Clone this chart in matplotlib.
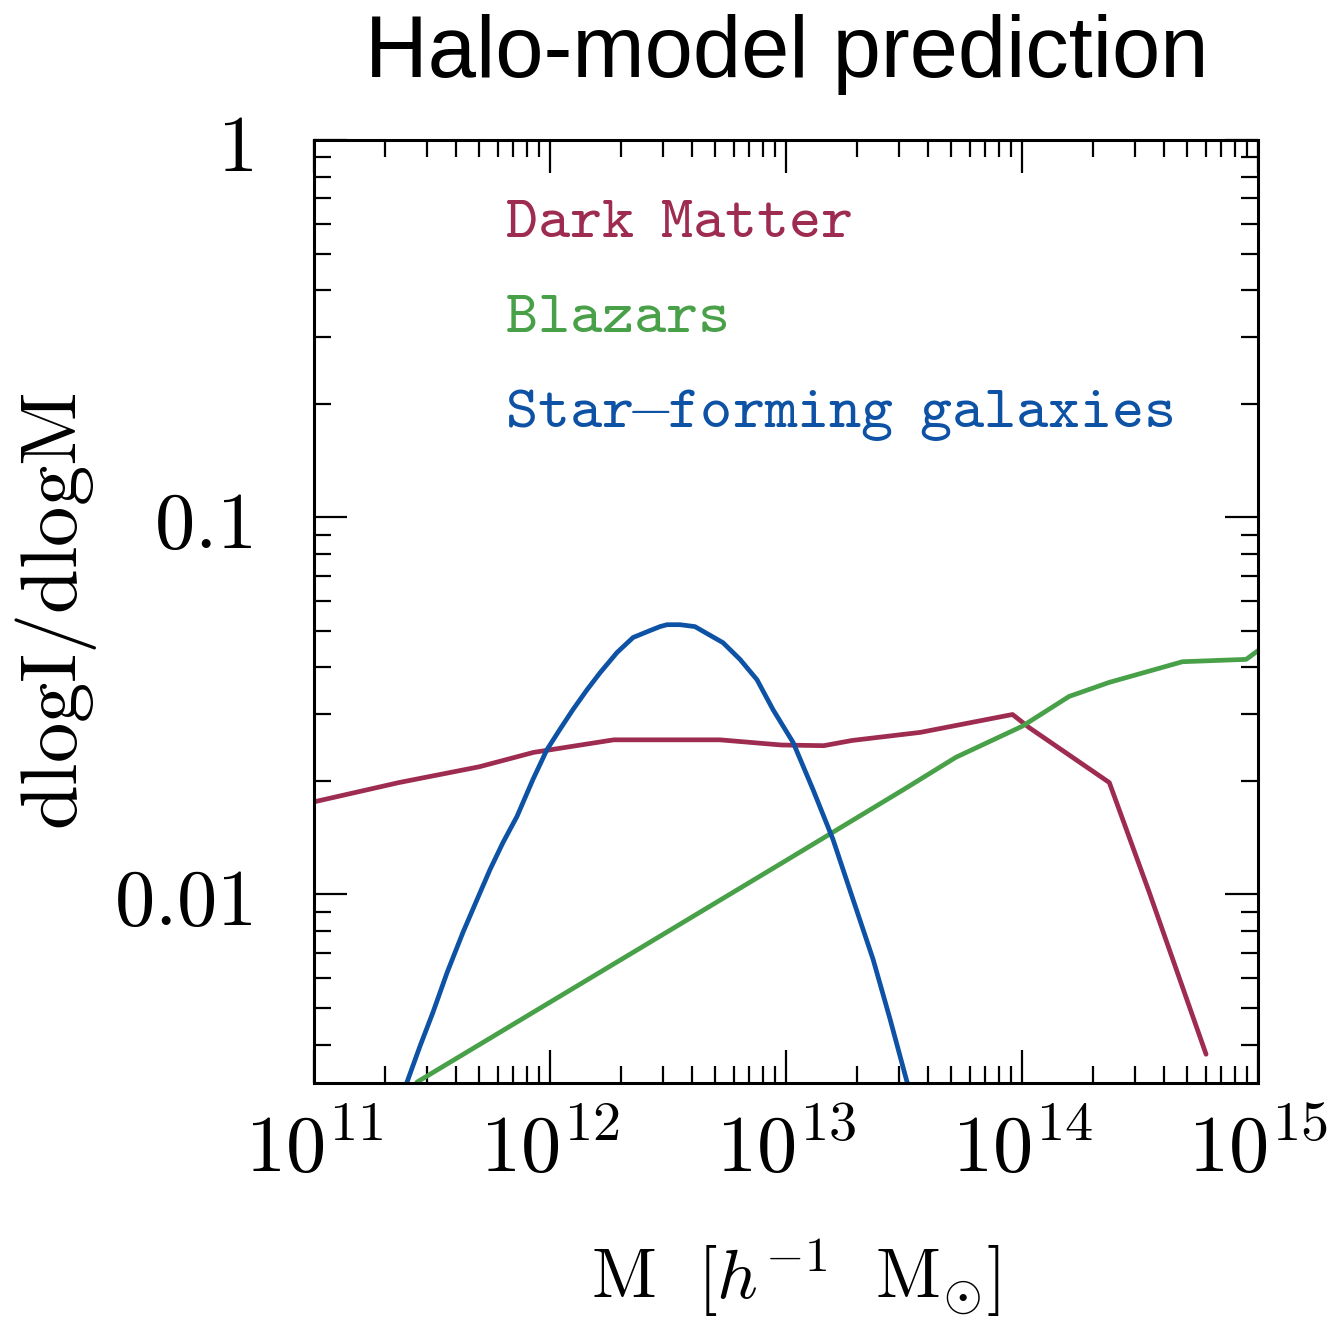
"""Halo-mass contribution to the gamma-ray intensity for three source classes."""

import matplotlib

matplotlib.use("Agg")
import matplotlib.pyplot as plt
import numpy as np
from matplotlib.ticker import FixedLocator, FuncFormatter, LogLocator, NullFormatter

plt.rcParams["mathtext.fontset"] = "cm"

# log10 halo mass [h^-1 Msun] and dlogI/dlogM per source class
dm_logm = [11.0, 11.36, 11.70, 11.93, 12.27, 12.72, 12.98, 13.16, 13.28, 13.57,
           13.96, 14.03, 14.37, 14.54, 14.78]
dm_frac = [0.0176, 0.0198, 0.0218, 0.0238, 0.0257, 0.0257, 0.0249, 0.0248, 0.0256,
           0.0269, 0.0300, 0.0277, 0.0198, 0.0101, 0.00377]

blazar_logm = [11.436, 12.0, 12.5, 13.0, 13.5, 13.72, 14.0, 14.2, 14.37, 14.68,
               14.95, 15.0]
blazar_frac = [0.00318, 0.00518, 0.00798, 0.0123, 0.0190, 0.0231, 0.0279, 0.0335,
               0.0365, 0.0414, 0.0420, 0.0443]

sfg_logm = [11.37, 11.394, 11.449, 11.504, 11.564, 11.631, 11.691, 11.746, 11.801,
            11.860, 11.928, 11.987, 12.042, 12.097, 12.157, 12.212, 12.284, 12.352,
            12.411, 12.466, 12.496, 12.551, 12.614, 12.733, 12.805, 12.877, 12.945,
            13.030, 13.114, 13.199, 13.284, 13.369, 13.441, 13.513, 13.54]
sfg_frac = [0.0027, 0.00318, 0.00396, 0.00487, 0.00621, 0.00793, 0.00970, 0.01165,
            0.01374, 0.0161, 0.0202, 0.0242, 0.0274, 0.0309, 0.0349, 0.0387, 0.0438,
            0.0480, 0.0497, 0.0513, 0.0519, 0.0519, 0.0513, 0.0465, 0.0420, 0.0371,
            0.0309, 0.0253, 0.0190, 0.0140, 0.0097, 0.00673, 0.00467, 0.00318, 0.0027]

labels = [r"Dark\enspace Matter", r"Blazars",
          r"Star\hspace{-0.12}{-}\hspace{-0.12}forming\enspace galaxies"]
colors = ["#9E2B50", "#48A048", "#0D52A4"]

fig = plt.figure(figsize=(13.38, 13.25), dpi=100)
ax = fig.add_axes([0.2347, 0.1826, 0.7055, 0.7117])

series = [(dm_logm, dm_frac), (blazar_logm, blazar_frac), (sfg_logm, sfg_frac)]
for (logm, frac), color in zip(series, colors):
    ax.plot(10 ** np.asarray(logm), frac, color=color, lw=3.4,
            solid_joinstyle="round", solid_capstyle="round")

ax.set_xscale("log")
ax.set_yscale("log")
ax.set_xlim(1e11, 1e15)
ax.set_ylim(10 ** -2.5, 1)

ax.xaxis.set_major_locator(FixedLocator([1e11, 1e12, 1e13, 1e14, 1e15]))
ax.xaxis.set_major_formatter(FuncFormatter(lambda v, _: r"$10^{%d}$" % round(np.log10(v))))
ax.xaxis.set_minor_locator(LogLocator(base=10, subs=np.arange(2, 10), numticks=20))
ax.xaxis.set_minor_formatter(NullFormatter())

ytick_text = {0.01: "$0.01$", 0.1: "$0.1$", 1.0: "$1$"}
ax.yaxis.set_major_locator(FixedLocator([0.01, 0.1, 1]))
ax.yaxis.set_major_formatter(FuncFormatter(lambda v, _: ytick_text.get(round(v, 4), "")))
ax.yaxis.set_minor_locator(LogLocator(base=10, subs=np.arange(2, 10), numticks=20))
ax.yaxis.set_minor_formatter(NullFormatter())

ax.tick_params(which="both", direction="in", top=True, right=True, width=1.6, color="black")
ax.tick_params(which="major", length=24)
ax.tick_params(which="minor", length=12)
ax.tick_params(axis="x", which="major", labelsize=58, pad=20)
ax.tick_params(axis="y", which="major", labelsize=58, pad=44)
for spine in ax.spines.values():
    spine.set_linewidth(2.2)

ax.set_xlabel(r"$\mathrm{M}\ \ [h^{-1}\ \ \mathrm{M}_{\odot}]$", fontsize=51)
ax.xaxis.set_label_coords(0.51, -0.162)
ax.set_ylabel(r"$\mathrm{dlogI/dlogM}$", fontsize=58)
ax.yaxis.set_label_coords(-0.228, 0.5)

for i, (text, color) in enumerate(zip(labels, colors)):
    ax.text(0.2023, 0.897 - 0.1005 * i, r"$\mathtt{" + text + "}$", color=color,
            fontsize=44, transform=ax.transAxes, ha="left", va="baseline")

fig.text(787 / 1338, 1 - 77 / 1325, "Halo-model prediction", fontsize=62.5,
         family="Liberation Sans", ha="center", va="baseline")

fig.savefig("out.png", dpi=100)
